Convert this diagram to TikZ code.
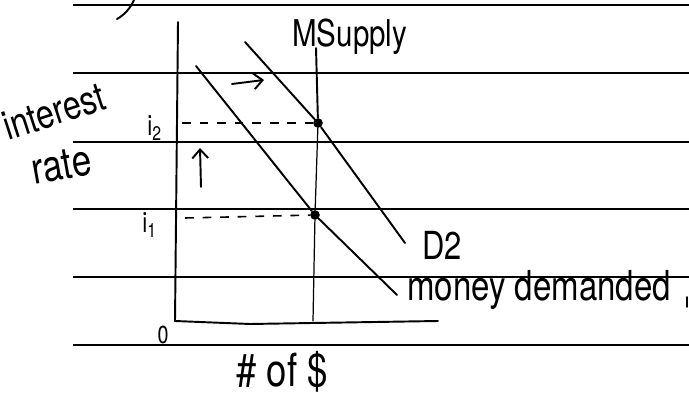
\documentclass[tikz,border=0pt]{standalone}
\usepackage{fontspec}
\newfontfamily\handfont[FakeStretch=0.8]{TeX Gyre Heros}
\usepackage{tikz}
\usetikzlibrary{arrows.meta,positioning,calc}

\begin{document}
\begin{tikzpicture}[
  x=0.02cm, y=-0.02cm,
  ruled/.style={line width=1.3pt},
  pen/.style={line width=1.1pt, line cap=round},
  thinpen/.style={line width=0.7pt, line cap=round},
  guide/.style={line width=0.9pt, dash pattern=on 5pt off 5pt},
  dot/.style={circle, fill=black, inner sep=0pt, minimum size=5.5pt},
  hand/.style={font=\fontsize{22}{22}\handfont, inner sep=0pt, anchor=base west},
  small/.style={font=\fontsize{16}{16}\handfont, inner sep=0pt, anchor=base west},
  shiftarrow/.style={-{Straight Barb[length=5pt, width=9pt]}, line width=1.1pt, line cap=round}
]
\useasboundingbox (0,0) rectangle (689,401);

% ruled paper
\draw[ruled] (73,5) -- (689,5);
\draw[ruled] (73,73) -- (689,73);
\draw[ruled] (73,142) -- (689,142);
\draw[ruled] (73,209) -- (689,209);
\draw[ruled] (73,277) -- (689,277);
\draw[ruled] (73,345) -- (689,345);

% bits of writing cut off at the edges
\draw[pen] (134,0) .. controls (130,9) and (124,15) .. (117,19);
\draw[pen] (687,297) -- (687,307);

% axes
\coordinate (ytop) at (178,22);
\coordinate (orig) at (175,321);
\coordinate (xend) at (438,321);
\draw[pen] (ytop) -- (orig) -- (250,324) -- (xend);

% equilibria
\node[dot] (e2) at (318,123) {};
\node[dot] (e1) at (315,215) {};

% money supply
\coordinate (stop) at (316,48);
\coordinate (sbot) at (313,321);
\draw[pen] (stop) -- (e2);
\draw[thinpen] (e2) -- (e1) -- (sbot);

% money demand, old and new
\coordinate (d1top) at (196,66);
\coordinate (d1end) at (397,295);
\draw[pen] (d1top) -- (e1) -- (d1end);
\coordinate (d2top) at (245,42);
\coordinate (d2end) at (405,243);
\draw[pen] (d2top) -- (e2) -- (d2end);

% read-offs to the rate axis
\coordinate (a2) at (182,123);
\coordinate (a1) at (185,218);
\draw[guide] (a2) -- (e2);
\draw[guide] (a1) -- (e1);

% shifts
\coordinate (rfrom) at (232,84);
\coordinate (rto) at (264,80);
\draw[shiftarrow] (rfrom) -- (rto);
\coordinate (ufrom) at (201,187);
\coordinate (uto) at (200,148);
\draw[shiftarrow] (ufrom) -- (uto);

% labels
\node[hand, font=\fontsize{23}{23}\handfont, rotate=18] (interest) at (8,141) {interest};
\node[hand, font=\fontsize{25}{25}\handfont, rotate=10] (rate) at (34,185) {rate};
\node[hand, font=\fontsize{21}{21}\handfont] (msupply) at (292,47) {MSupply};
\node[small] (i2) at (147,136) {i\textsubscript{2}};
\node[small] (i1) at (142,233) {i\textsubscript{1}};
\node[hand] (d2) at (422,260) {D2};
\node[hand, font=\fontsize{23.5}{23.5}\handfont] (mdem) at (407,301) {money demanded};
\node[small, anchor=center, font=\fontsize{14}{14}\handfont] (zero) at (163,335) {0};
\node[hand, font=\fontsize{26}{26}\handfont] (qty) at (236,387) {\# of \$};
\end{tikzpicture}
\end{document}
